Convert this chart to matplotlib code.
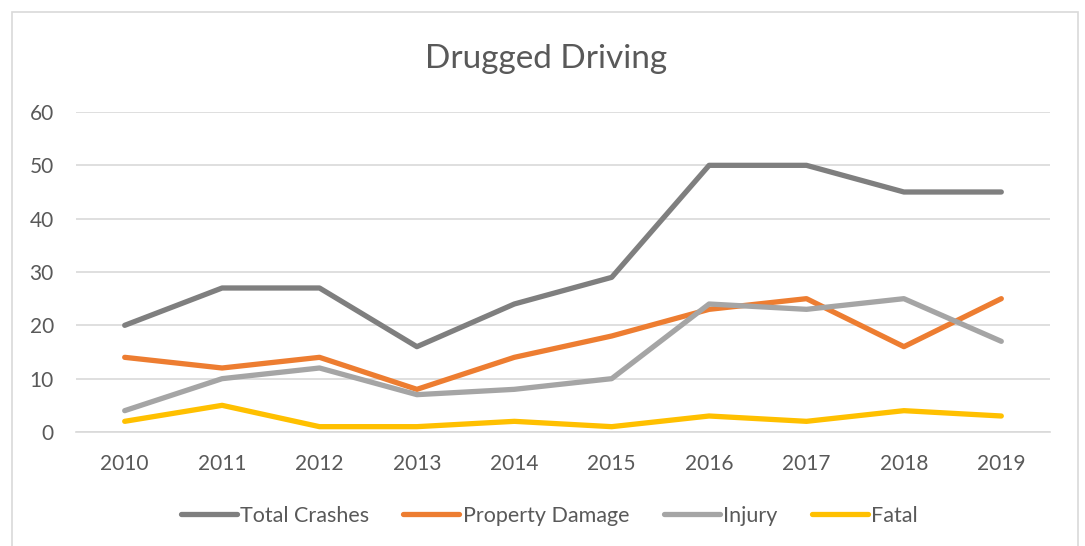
import matplotlib.pyplot as plt
from matplotlib.patches import Rectangle

years = ["2010", "2011", "2012", "2013", "2014", "2015", "2016", "2017", "2018", "2019"]
total_crashes = [20, 27, 27, 16, 24, 29, 50, 50, 45, 45]
property_damage = [14, 12, 14, 8, 14, 18, 23, 25, 16, 25]
injury = [4, 10, 12, 7, 8, 10, 24, 23, 25, 17]
fatal = [2, 5, 1, 1, 2, 1, 3, 2, 4, 3]

series = [
    ("Total Crashes", total_crashes, "#7f7f7f"),
    ("Property Damage", property_damage, "#ed7d31"),
    ("Injury", injury, "#a5a5a5"),
    ("Fatal", fatal, "#ffc000"),
]

plt.rcParams["font.family"] = ["Lato", "DejaVu Sans"]
text_color = "#595959"
grid_color = "#d9d9d9"

W, H = 1085, 546
fig = plt.figure(figsize=(W / 100, H / 100), dpi=100)

# chart border, bottom edge runs off the picture
fig.patches.append(Rectangle((12 / W, -0.05), (1078 - 12) / W, 1 - 12 / H + 0.05,
                             transform=fig.transFigure, fill=False,
                             edgecolor=grid_color, linewidth=1.2))

ax = fig.add_axes([76 / W, 1 - 432 / H, (1050 - 76) / W, (432 - 112) / H])

x = range(len(years))
for name, vals, color in series:
    ax.plot(x, vals, color=color, linewidth=3.8, label=name,
            solid_capstyle="round", solid_joinstyle="round")

ax.set_xlim(-0.5, len(years) - 0.5)
ax.set_ylim(0, 60)
ax.set_yticks(range(0, 61, 10))
ax.set_xticks(list(x))
ax.set_xticklabels(years)

ax.grid(axis="y", color=grid_color, linewidth=1.2)
ax.set_axisbelow(True)
for side in ["top", "right", "left"]:
    ax.spines[side].set_visible(False)
ax.spines["bottom"].set_color(grid_color)
ax.spines["bottom"].set_linewidth(1.2)

ax.tick_params(axis="y", length=0, pad=16, labelsize=15, labelcolor=text_color)
ax.tick_params(axis="x", length=0, pad=16, labelsize=15, labelcolor=text_color)

fig.text(546 / W, 1 - 59 / H, "Drugged Driving", ha="center", va="center",
         fontsize=24, color=text_color)

leg = fig.legend(loc="center", bbox_to_anchor=(549 / W, 1 - 516 / H), ncol=4,
                 frameon=False, fontsize=15.5, handlelength=2.6, handletextpad=0.15,
                 columnspacing=1.6)
for t in leg.get_texts():
    t.set_color(text_color)

fig.savefig("out.png", dpi=100)
